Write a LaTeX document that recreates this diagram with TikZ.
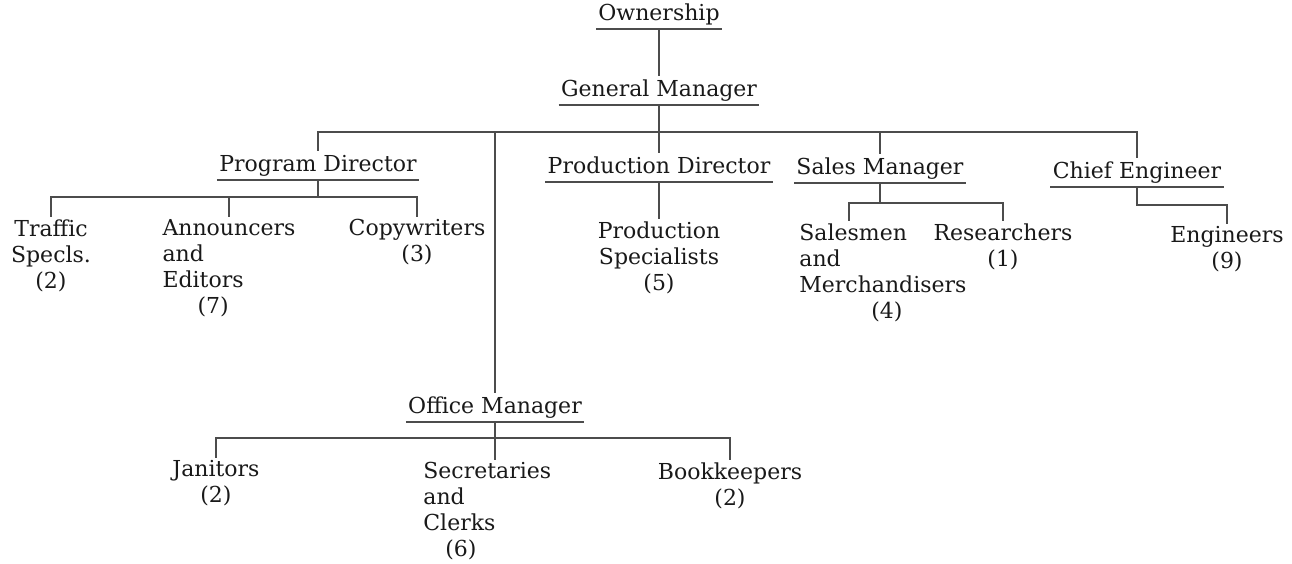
\documentclass[tikz,border=0pt]{standalone}
\usepackage{fontspec}
\setmainfont{DejaVu Serif}
\tikzset{
  post/.style={font=\fontsize{11}{13}\selectfont, text=black!90, inner xsep=1pt, inner ysep=1.5pt,
    text height=8.5pt, text depth=2.5pt, anchor=south},
  staff/.style={font=\fontsize{11}{13}\selectfont, text=black!90, inner sep=1pt, anchor=north, align=center},
  wire/.style={draw=black!70, line width=0.8pt}
}
\begin{document}
\begin{tikzpicture}[x=0.5pt, y=-0.5pt]
  \useasboundingbox (0,0) rectangle (1292,563);

  % posts, underlined
  \node[post] (own) at (659,29) {Ownership};
  \node[post] (gm) at (659,105) {General Manager};
  \node[post] (pd) at (318,180) {Program Director};
  \node[post] (prod) at (659,182) {Production Director};
  \node[post] (sm) at (880,183) {Sales Manager};
  \node[post] (ce) at (1137,187) {Chief Engineer};
  \node[post] (om) at (495,422) {Office Manager};
  \foreach \n in {own,gm,pd,prod,sm,ce,om}
    \draw[wire] (\n.south west) -- (\n.south east);

  % staff
  \node[staff] (ts) at (51,217) {Traffic\\Specls.\\(2)};
  \node[staff, align=left] (ae) at (229,217) {Announcers\\and\\Editors\\\hspace*{17.5pt}(7)};
  \node[staff] (cw) at (417,217) {Copywriters\\(3)};
  \node[staff] (ps) at (659,219) {Production\\Specialists\\(5)};
  \node[staff, anchor=north west, align=left] (sal) at (797,221) {Salesmen\\and\\Merchandisers\\\hspace*{36pt}(4)};
  \node[staff] (res) at (1003,221) {Researchers\\(1)};
  \node[staff] (eng) at (1227,224) {Engineers\\(9)};
  \node[staff] (jan) at (216,458) {Janitors\\(2)};
  \node[staff, anchor=north west, align=left] (sec) at (421,460) {Secretaries\\and\\Clerks\\\hspace*{11pt}(6)};
  \node[staff] (bk) at (730,460) {Bookkeepers\\(2)};

  % lines
  \draw[wire] (own.south) -- (gm.north);
  \draw[wire] (gm.south) -- (prod.north);
  \path (gm.south) ++(0,27) coordinate (gmbar);
  \foreach \n in {pd,om,sm,ce}
    \draw[wire] (gmbar) -| (\n.north);

  \path (pd.south) ++(0,17) coordinate (pdbar);
  \draw[wire] (pd.south) -- (pdbar);
  \foreach \n in {ts,ae,cw}
    \draw[wire] (pdbar) -| (\n.north);

  \draw[wire] (prod.south) -- (ps.north);

  \path (sm.south) ++(0,20) coordinate (smbar);
  \draw[wire] (sm.south) -- (smbar);
  \draw[wire] (smbar) -| ([xshift=26pt]sal.north west);
  \draw[wire] (smbar) -| (res.north);

  \draw[wire] (ce.south) -- ++(0,18) -| (eng.north);

  \path (om.south) ++(0,16) coordinate (ombar);
  \draw[wire] (om.south) -- (om.south |- sec.north);
  \foreach \n in {jan,bk}
    \draw[wire] (ombar) -| (\n.north);
\end{tikzpicture}
\end{document}
